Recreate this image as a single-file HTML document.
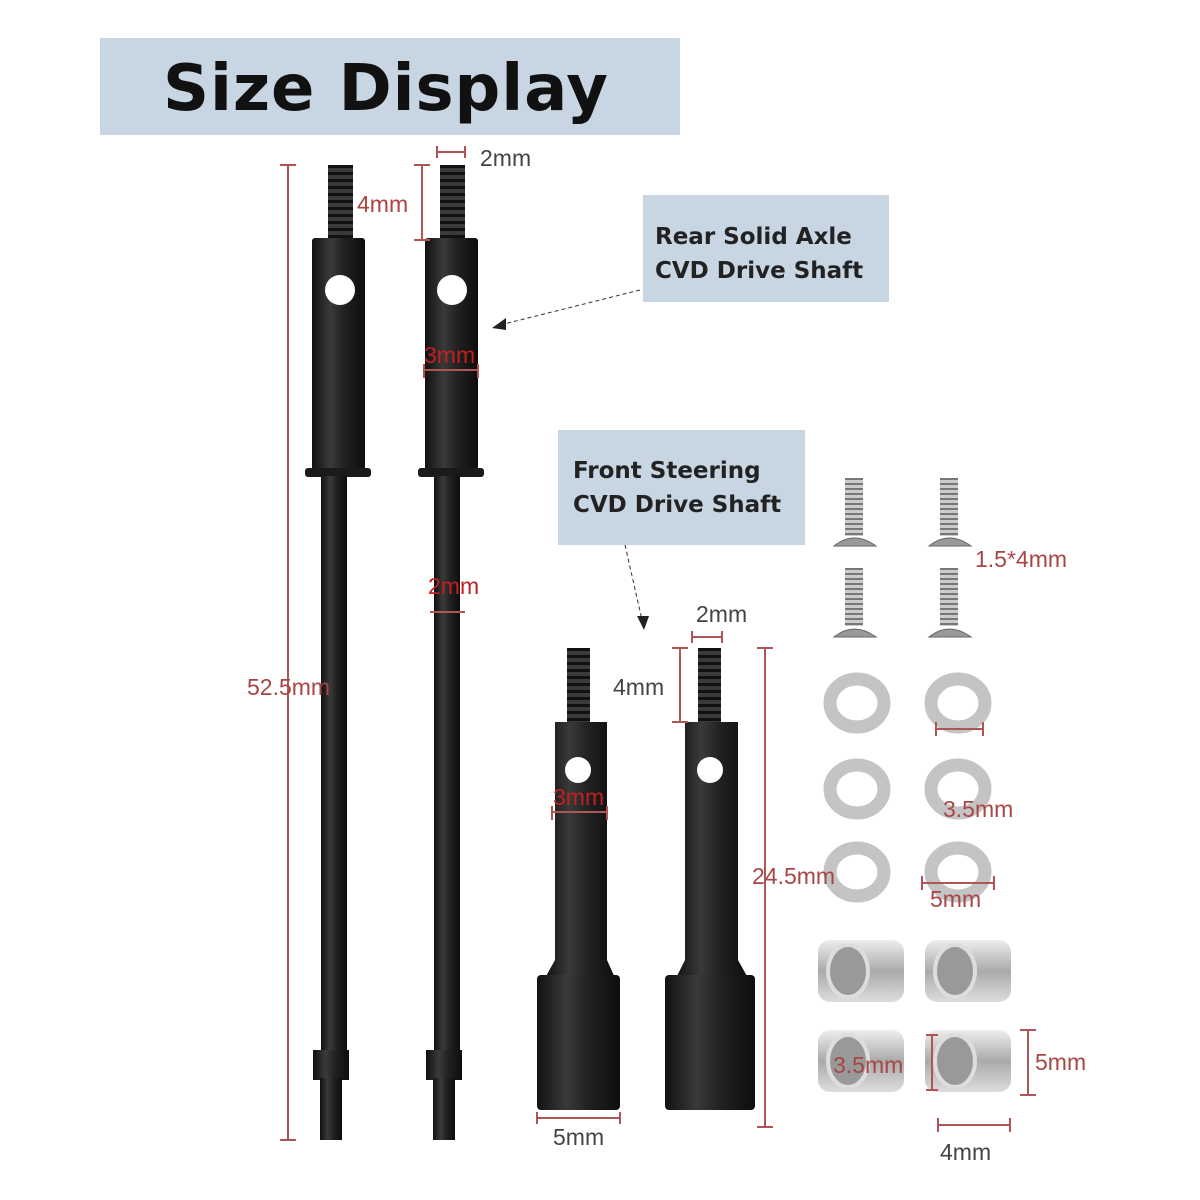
<!DOCTYPE html>
<html><head><meta charset="utf-8"><style>
html,body{margin:0;padding:0;background:#fff;}
svg{display:block}
.d{font-family:"Liberation Sans",sans-serif;font-size:23px;fill:#a84646}
.lb{font-family:"DejaVu Sans","Liberation Sans",sans-serif;font-weight:bold;font-size:23px;fill:#222}
</style></head><body>
<svg width="1200" height="1200" viewBox="0 0 1200 1200" xmlns="http://www.w3.org/2000/svg">
<defs>
<linearGradient id="bk" x1="0" x2="1">
<stop offset="0" stop-color="#111"/><stop offset=".35" stop-color="#3a3a3a"/><stop offset=".6" stop-color="#222"/><stop offset="1" stop-color="#0d0d0d"/></linearGradient>
<linearGradient id="sv" x1="0" y1="0" x2="0" y2="1">
<stop offset="0" stop-color="#eee"/><stop offset=".5" stop-color="#aaa"/><stop offset="1" stop-color="#ddd"/></linearGradient>
<pattern id="th" width="10" height="7" patternUnits="userSpaceOnUse"><rect width="10" height="7" fill="#3a3a3a"/><rect y="4" width="10" height="3" fill="#111"/></pattern>
<pattern id="ths" width="10" height="5" patternUnits="userSpaceOnUse"><rect width="10" height="5" fill="#ccc"/><rect y="3" width="10" height="2" fill="#777"/></pattern>
</defs>
<rect x="100" y="38" width="580" height="97" fill="#c8d5e2"/>
<text x="163" y="110" font-family="DejaVu Sans,Liberation Sans,sans-serif" font-weight="bold" font-size="64" textLength="445" fill="#111">Size Display</text>
<rect x="643" y="195" width="246" height="107" fill="#c8d5e2"/>
<text class="lb" x="655" y="244">Rear Solid Axle</text>
<text class="lb" x="655" y="278">CVD Drive Shaft</text>
<rect x="558" y="430" width="247" height="115" fill="#c8d5e2"/>
<text class="lb" x="573" y="478">Front Steering</text>
<text class="lb" x="573" y="512">CVD Drive Shaft</text>
<line x1="640" y1="290" x2="500" y2="325" stroke="#333" stroke-dasharray="4,3"/>
<polygon points="492,328 506,318 506,330" fill="#222"/>
<line x1="625" y1="545" x2="642" y2="620" stroke="#333" stroke-dasharray="4,3"/>
<polygon points="644,630 637,616 649,616" fill="#222"/>
<g>
<rect x="328" y="165" width="25" height="75" fill="url(#th)"/>
<rect x="312" y="238" width="53" height="232" rx="3" fill="url(#bk)"/>
<circle cx="340" cy="290" r="15" fill="#fff"/>
<rect x="305" y="468" width="66" height="9" rx="3" fill="#1a1a1a"/>
<rect x="321" y="476" width="26" height="576" fill="url(#bk)"/>
<rect x="313" y="1050" width="36" height="30" fill="url(#bk)"/>
<rect x="320" y="1078" width="22" height="62" fill="url(#bk)"/>
</g>
<g>
<rect x="440" y="165" width="25" height="75" fill="url(#th)"/>
<rect x="425" y="238" width="53" height="232" rx="3" fill="url(#bk)"/>
<circle cx="452" cy="290" r="15" fill="#fff"/>
<rect x="418" y="468" width="66" height="9" rx="3" fill="#1a1a1a"/>
<rect x="434" y="476" width="26" height="576" fill="url(#bk)"/>
<rect x="426" y="1050" width="36" height="30" fill="url(#bk)"/>
<rect x="433" y="1078" width="22" height="62" fill="url(#bk)"/>
</g>
<g>
<rect x="567" y="648" width="23" height="76" fill="url(#th)"/>
<path d="M555 722 H607 V960 L615 978 H545 L555 960 Z" fill="url(#bk)"/>
<rect x="537" y="975" width="83" height="135" rx="4" fill="url(#bk)"/>
<circle cx="578" cy="770" r="13" fill="#fff"/>
</g>
<g>
<rect x="698" y="648" width="23" height="76" fill="url(#th)"/>
<path d="M685 722 H738 V960 L748 978 H676 L685 960 Z" fill="url(#bk)"/>
<rect x="665" y="975" width="90" height="135" rx="4" fill="url(#bk)"/>
<circle cx="710" cy="770" r="13" fill="#fff"/>
</g>
<g fill="url(#ths)">
<rect x="845" y="478" width="18" height="58"/><rect x="940" y="478" width="18" height="58"/>
<rect x="845" y="568" width="18" height="58"/><rect x="940" y="568" width="18" height="58"/>
</g>
<g fill="#999" stroke="#666">
<path d="M834 546 Q854 530 876 546 Z"/><path d="M929 546 Q949 530 971 546 Z"/>
<path d="M834 637 Q854 621 876 637 Z"/><path d="M929 637 Q949 621 971 637 Z"/>
</g>
<g fill="none" stroke="#c4c4c4" stroke-width="13">
<ellipse cx="857" cy="703" rx="27" ry="24"/><ellipse cx="958" cy="703" rx="27" ry="24"/>
<ellipse cx="857" cy="789" rx="27" ry="24"/><ellipse cx="958" cy="789" rx="27" ry="24"/>
<ellipse cx="857" cy="872" rx="27" ry="24"/><ellipse cx="958" cy="872" rx="27" ry="24"/>
</g>
<g>
<rect x="818" y="940" width="86" height="62" rx="12" fill="url(#sv)"/><ellipse cx="848" cy="971" rx="20" ry="26" fill="#999" stroke="#ddd" stroke-width="4"/>
<rect x="925" y="940" width="86" height="62" rx="12" fill="url(#sv)"/><ellipse cx="955" cy="971" rx="20" ry="26" fill="#999" stroke="#ddd" stroke-width="4"/>
<rect x="818" y="1030" width="86" height="62" rx="12" fill="url(#sv)"/><ellipse cx="848" cy="1061" rx="20" ry="26" fill="#999" stroke="#ddd" stroke-width="4"/>
<rect x="925" y="1030" width="86" height="62" rx="12" fill="url(#sv)"/><ellipse cx="955" cy="1061" rx="20" ry="26" fill="#999" stroke="#ddd" stroke-width="4"/>
</g>
<g stroke="#b05555" stroke-width="2" fill="none">
<path d="M288 165 V1140 M280 165 H296 M280 1140 H296"/>
<path d="M422 165 V240 M414 165 H430 M414 240 H430"/>
<path d="M437 152 H465 M437 146 V158 M465 146 V158"/>
<path d="M424 370 H478 M424 364 V378 M478 364 V378"/>
<path d="M430 612 H465"/>
<path d="M680 648 V722 M672 648 H688 M672 722 H688"/>
<path d="M692 637 H722 M692 631 V643 M722 631 V643"/>
<path d="M552 812 H607 M552 806 V820 M607 806 V820"/>
<path d="M765 648 V1127 M757 648 H773 M757 1127 H773"/>
<path d="M537 1118 H620 M537 1112 V1124 M620 1112 V1124"/>
<path d="M936 729 H983 M936 722 V736 M983 722 V736"/>
<path d="M922 883 H994 M922 876 V890 M994 876 V890"/>
<path d="M932 1035 V1090 M926 1035 H938 M926 1090 H938"/>
<path d="M1028 1030 V1095 M1020 1030 H1036 M1020 1095 H1036"/>
<path d="M938 1125 H1010 M938 1118 V1132 M1010 1118 V1132"/>
</g>
<g class="d">
<text x="247" y="695">52.5mm</text>
<text x="357" y="212" fill="#b04040">4mm</text>
<text x="480" y="166" fill="#444">2mm</text>
<text x="424" y="363" fill="#c02020">3mm</text>
<text x="428" y="594" fill="#c02020">2mm</text>
<text x="613" y="695" fill="#444">4mm</text>
<text x="696" y="622" fill="#444">2mm</text>
<text x="553" y="805" fill="#c02020">3mm</text>
<text x="752" y="884">24.5mm</text>
<text x="553" y="1145" fill="#444">5mm</text>
<text x="975" y="567">1.5*4mm</text>
<text x="943" y="817">3.5mm</text>
<text x="930" y="907">5mm</text>
<text x="833" y="1073">3.5mm</text>
<text x="1035" y="1070">5mm</text>
<text x="940" y="1160" fill="#444">4mm</text>
</g>
</svg>
</body></html>
